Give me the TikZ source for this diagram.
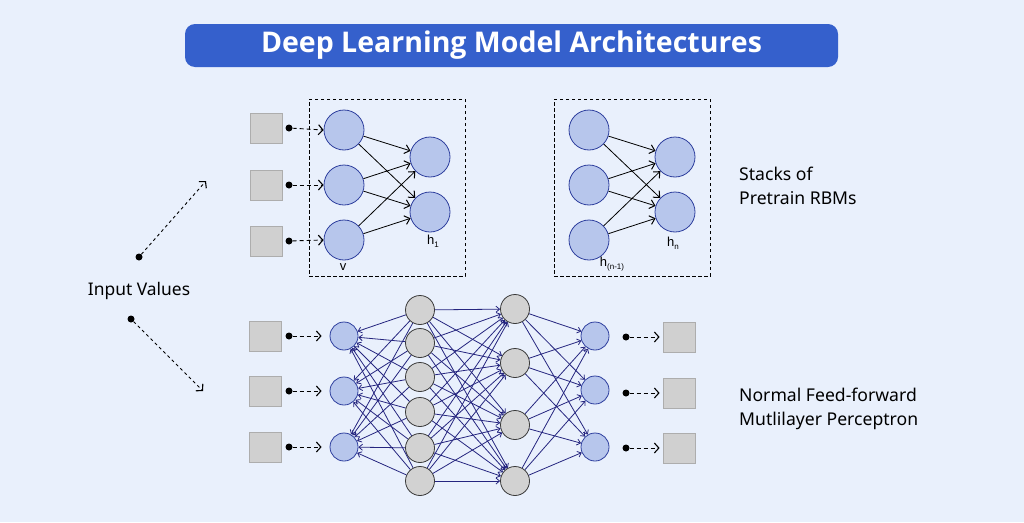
\documentclass[tikz,border=0pt]{standalone}
\usepackage{fontspec}
\setmainfont{Liberation Sans}
\newfontfamily\titlefont{Open Sans}
\newfontfamily\sidefont{Noto Sans}
\usetikzlibrary{arrows.meta}
\definecolor{bg}{HTML}{E9F0FC}
\definecolor{titleblue}{HTML}{3560CC}
\definecolor{bcfill}{HTML}{B7C6EC}
\definecolor{bcedge}{HTML}{2E3F9E}
\definecolor{gcfill}{HTML}{D2D2D2}
\definecolor{gcedge}{HTML}{3A3A3A}
\definecolor{sqfill}{HTML}{D0D0D0}
\definecolor{sqedge}{HTML}{ADADAD}
\definecolor{navy}{HTML}{25257F}
\newcommand{\lowsub}[1]{{\fontsize{8}{8}\selectfont\raisebox{-3pt}{#1}}}
\begin{document}
\begin{tikzpicture}[x=1pt,y=-1pt,
  sq/.style={draw=sqedge, fill=sqfill, line width=0.8pt, minimum width=32pt, minimum height=30pt, inner sep=0pt},
  bc/.style={circle, draw=bcedge, fill=bcfill, line width=0.8pt, minimum size=40pt, inner sep=0pt},
  sbc/.style={circle, draw=bcedge, fill=bcfill, line width=0.8pt, minimum size=28pt, inner sep=0pt},
  gc/.style={circle, draw=gcedge, fill=gcfill, line width=0.8pt, minimum size=29pt, inner sep=0pt},
  blackdot/.style={circle, fill=black, minimum size=7pt, inner sep=0pt},
  feedarrow/.style={draw=black, line width=0.9pt, dash pattern=on 4pt off 3pt, -{Straight Barb[length=4.5pt,width=10pt,line width=1.1pt]}},
  diagarrow/.style={draw=black, line width=0.9pt, dash pattern=on 3pt off 3pt, -{Straight Barb[length=4.5pt,width=10pt,line width=1.1pt]}},
  rbmedge/.style={draw=black, line width=0.8pt, -{Straight Barb[length=5pt,width=9pt,line width=1pt]}},
  netedge/.style={draw=navy, line width=0.8pt, -{Straight Barb[length=3.5pt,width=6pt]}},
  dashbox/.style={draw=black, line width=0.8pt, dash pattern=on 3.5pt off 2.5pt, inner sep=0pt},
  lbl/.style={font=\fontsize{13}{15}\selectfont, inner sep=0pt},
  side/.style={font=\sidefont\fontsize{17.6}{23.5}\selectfont, align=left, anchor=west, inner sep=0pt}
]
\fill[bg] (0,0) rectangle (1024,522);
\useasboundingbox (0,0) rectangle (1024,522);

% title
\node[fill=titleblue, rounded corners=10pt, minimum width=653pt, minimum height=43pt, inner sep=0pt,
      text=white, font=\titlefont\bfseries\fontsize{28.5}{32}\selectfont] (title) at (511.5,45.5) {Deep Learning Model Architectures};

% ---------- RBM 1 ----------
\node[dashbox, minimum width=156pt, minimum height=177pt] (box1) at (387,187.5) {};
\foreach \i/\y in {1/128,2/185,3/241}{
  \node[sq] (s\i) at (266,\y) {};
  \node[blackdot] (d\i) at (289,\y) {};
}
\node[bc] (v1) at (344,130) {};
\node[bc] (v2) at (344,185) {};
\node[bc] (v3) at (344,240) {};
\node[bc] (h1) at (430,157) {};
\node[bc] (h2) at (430,212) {};
\foreach \i in {1,2,3}{ \draw[feedarrow] (d\i) -- (v\i.west); }
\foreach \i in {1,2,3}{ \foreach \j in {1,2}{ \draw[rbmedge] (v\i) -- (h\j); } }
\node[lbl] (vlab) at (343,267) {v};
\node[lbl] (h1lab) at (433,241) {h\lowsub{1}};

% ---------- RBM n ----------
\node[dashbox, minimum width=156pt, minimum height=177pt] (box2) at (632,187.5) {};
\node[bc] (u1) at (589,130) {};
\node[bc] (u2) at (589,185) {};
\node[bc] (u3) at (589,240) {};
\node[bc] (k1) at (675,157) {};
\node[bc] (k2) at (675,212) {};
\foreach \i in {1,2,3}{ \foreach \j in {1,2}{ \draw[rbmedge] (u\i) -- (k\j); } }
\node[lbl] (hnm) at (612,264) {h\lowsub{(n-1)}};
\node[lbl] (hn) at (673,243) {h\lowsub{n}};

\node[side] (stacks) at (739,186) {Stacks of\\Pretrain RBMs};

% ---------- Input values ----------
\node[font=\sidefont\fontsize{17.4}{20}\selectfont, inner sep=0pt] (inp) at (139,291) {Input Values};
\node[blackdot] (id1) at (139,257) {};
\node[blackdot] (id2) at (131,319) {};
\coordinate (it1) at (206,181);
\coordinate (it2) at (203,391);
\draw[diagarrow] (id1) -- (it1);
\draw[diagarrow] (id2) -- (it2);

% ---------- MLP ----------
\foreach \i/\y in {1/336,2/391,3/447}{
  \node[sq] (ls\i) at (265,\y) {};
  \node[blackdot] (ld\i) at (289,\y) {};
  \node[sbc] (a\i) at (344,\y) {};
}
\foreach \i/\y in {1/337,2/393,3/448}{
  \node[sq] (rs\i) at (679,\y) {};
  \node[blackdot] (rd\i) at (626,\y) {};
}
\node[sbc] (o1) at (595,336) {};
\node[sbc] (o2) at (595,390) {};
\node[sbc] (o3) at (595,447) {};
\foreach \i/\y in {1/310,2/343,3/377,4/412,5/448,6/481}{ \node[gc] (b\i) at (420,\y) {}; }
\foreach \i/\y in {1/309,2/363,3/425,4/481}{ \node[gc] (c\i) at (515,\y) {}; }

\foreach \i in {1,...,6}{ \foreach \j in {1,2,3}{ \draw[netedge] (b\i) -- (a\j); } }
\foreach \i in {1,...,6}{ \foreach \j in {1,...,4}{ \draw[netedge] (b\i) -- (c\j); } }
\foreach \i in {1,...,4}{ \foreach \j in {1,2,3}{ \draw[netedge] (c\i) -- (o\j); } }

\foreach \i in {1,2,3}{
  \draw[feedarrow, shorten >=8pt] (ld\i) -- (a\i.west);
  \draw[feedarrow, shorten >=3pt] (rd\i) -- (rs\i.west);
}

\node[side] (mlp) at (739,409) {Normal Feed-forward\\Mutlilayer Perceptron};
\end{tikzpicture}
\end{document}
